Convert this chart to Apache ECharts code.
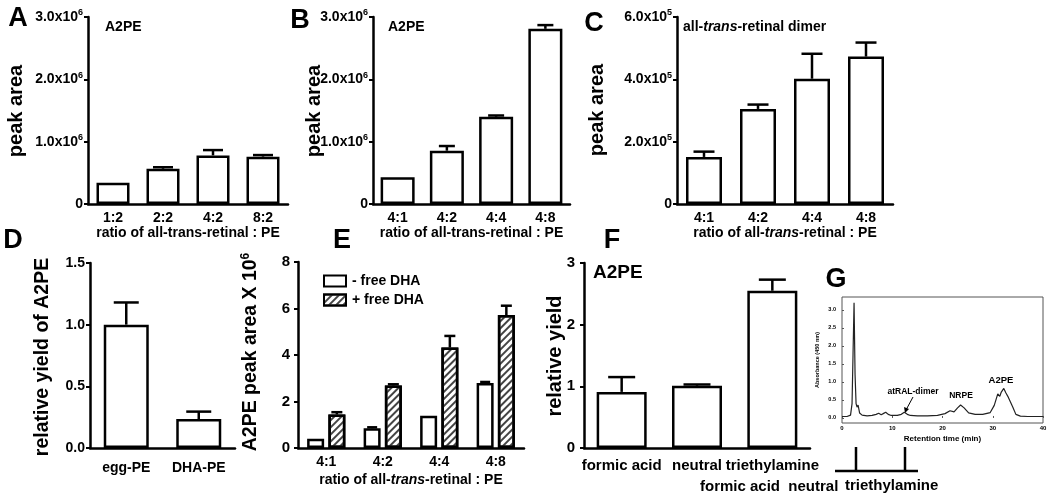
<!DOCTYPE html>
<html><head><meta charset="utf-8">
<script src="https://cdn.jsdelivr.net/npm/echarts@6/dist/echarts.min.js"></script>
<style>html,body{margin:0;padding:0;background:#fff}#c{width:1050px;height:495px}</style>
</head><body><div id="c"></div>
<script>
// ---------- data ----------
const aCats = ['1:2', '2:2', '4:2', '8:2'];
const aMean = [0.34e6, 0.565e6, 0.78e6, 0.76e6];
const aErr  = [0, 0.025e6, 0.085e6, 0.025e6];

const bCats = ['4:1', '4:2', '4:4', '4:8'];
const bMean = [0.43e6, 0.855e6, 1.40e6, 2.81e6];
const bErr  = [0, 0.075e6, 0.02e6, 0.06e6];

const cCats = ['4:1', '4:2', '4:4', '4:8'];
const cMean = [1.51e5, 3.05e5, 4.02e5, 4.73e5];
const cErr  = [0.17e5, 0.14e5, 0.80e5, 0.45e5];

const dCats = ['egg-PE', 'DHA-PE'];
const dMean = [1.0, 0.235];
const dErr  = [0.18, 0.06];

const eCats = ['4:1', '4:2', '4:4', '4:8'];
const eMinus = [0.40, 0.85, 1.39, 2.80];
const eMinusErr = [0, 0.04, 0, 0.04];
const ePlus = [1.44, 2.69, 4.32, 5.72];
const ePlusErr = [0.10, 0.05, 0.50, 0.40];

const fCats = ['formic acid', 'neutral', 'triethylamine'];
const fMean = [0.91, 1.01, 2.55];
const fErr  = [0.24, 0.02, 0.18];

const gTime = [0, 1.0, 1.7, 2.0, 2.2, 2.4, 2.6, 2.8, 3.0, 3.2, 3.5, 4.0, 5.0, 6.0, 6.8, 7.3, 7.8, 8.2, 8.7, 9.2,
  9.8, 11.0, 11.8, 12.4, 13.0, 13.6, 15.0, 17.0, 19.0, 20.5, 21.5, 22.3, 23.0, 23.6, 24.3, 25.2, 26.5, 28.0, 29.5, 30.3,
  31.0, 31.4, 31.7, 32.2, 32.6, 33.0, 33.5, 34.0, 34.6, 35.5, 37.0, 40.0];
const gAbs = [0.04, 0.04, 0.08, 0.4, 1.8, 3.2, 1.2, 0.4, 0.3, 0.36, 0.14, 0.08, 0.06, 0.07, 0.10, 0.13, 0.09, 0.12, 0.16, 0.10,
  0.07, 0.07, 0.10, 0.16, 0.10, 0.07, 0.06, 0.06, 0.07, 0.12, 0.20, 0.17, 0.28, 0.36, 0.28, 0.14, 0.10, 0.10, 0.15, 0.35,
  0.67, 0.60, 0.72, 0.82, 0.70, 0.60, 0.45, 0.30, 0.10, 0.05, 0.04, 0.04];
const gYTicks = [0, 0.5, 1.0, 1.5, 2.0, 2.5, 3.0];

// ---------- styling helpers ----------
const FONT = '"Liberation Sans", Arial, sans-serif';
const AXW = 2.5;
const txt = (size, extra) => Object.assign({color: '#000', fontFamily: FONT, fontWeight: 'bold', fontSize: size}, extra || {});
const supRich = {s: txt(9, {padding: [0, 0, 8, 0]}), i: txt(14, {fontStyle: 'italic'})};

function xCat(gi, data, o) {
  return Object.assign({
    type: 'category', gridIndex: gi, data: data,
    axisLine: {lineStyle: {color: '#000', width: AXW}},
    axisTick: {show: false},
    axisLabel: Object.assign(txt(14), {margin: 7, interval: 0}),
    nameLocation: 'middle',
    nameTextStyle: Object.assign(txt(14), {rich: supRich})
  }, o || {});
}
function yVal(gi, min, max, interval, fmt, size, margin) {
  return {
    type: 'value', gridIndex: gi, min: min, max: max, interval: interval,
    axisLine: {show: true, lineStyle: {color: '#000', width: AXW}},
    axisTick: {show: true, length: 4, lineStyle: {color: '#000', width: 2}},
    splitLine: {show: false},
    axisLabel: Object.assign(txt(size), {margin: margin, formatter: fmt, rich: supRich})
  };
}
const barStyle = {color: '#fff', borderColor: '#000', borderWidth: AXW};
function bar(gi, vals, bw, extra) {
  return Object.assign({type: 'bar', xAxisIndex: gi, yAxisIndex: gi, data: vals, barWidth: bw,
    itemStyle: barStyle, silent: true, animation: false}, extra || {});
}
function errSeries(gi, means, errs, offset, capW) {
  return {
    type: 'custom', xAxisIndex: gi, yAxisIndex: gi, z: 5, silent: true, animation: false,
    encode: {x: 0, y: 1},
    data: means.map((m, i) => [i, m, errs[i]]),
    renderItem: function (params, api) {
      const i = api.value(0), m = api.value(1), e = api.value(2);
      if (!e) return null;
      const p0 = api.coord([i, m]), p1 = api.coord([i, m + e]);
      const x = p0[0] + offset;
      const st = {stroke: '#000', lineWidth: AXW};
      return {type: 'group', children: [
        {type: 'line', shape: {x1: x, y1: p0[1], x2: x, y2: p1[1]}, style: st},
        {type: 'line', shape: {x1: x - capW / 2, y1: p1[1], x2: x + capW / 2, y2: p1[1]}, style: st}
      ]};
    }
  };
}
const sci = (exp) => (v) => v === 0 ? '0' : (v / Math.pow(10, exp)).toFixed(1) + 'x10{s|' + exp + '}';

function gtext(x, y, text, size, extra) {
  return {type: 'text', x: x, y: y, silent: true,
    style: Object.assign({text: text, fill: '#000', font: 'bold ' + size + 'px ' + FONT,
      align: 'center', verticalAlign: 'middle', rich: {s: {font: 'bold ' + Math.round(size * 0.6) + 'px ' + FONT, fill: '#000', padding: [0, 0, Math.round(size * 0.55), 0]},
      i: {font: 'italic bold ' + size + 'px ' + FONT, fill: '#000'}}}, extra || {})};
}
function vtext(x, y, text, size) {
  const t = gtext(x, y, text, size);
  t.rotation = Math.PI / 2;
  return t;
}
const ln = (x1, y1, x2, y2, w) => ({type: 'line', silent: true, shape: {x1, y1, x2, y2}, style: {stroke: '#000', lineWidth: w || AXW}});

const hatch = {symbol: 'rect', symbolSize: 1, dashArrayX: [1, 0], dashArrayY: [1.2, 2.2], rotation: -Math.PI / 4, color: '#444'};

const option = {
  backgroundColor: '#fff',
  animation: false,
  grid: [
    {left: 88, top: 17, width: 200, height: 187},
    {left: 373, top: 17, width: 197, height: 187},
    {left: 677, top: 17, width: 216, height: 187},
    {left: 90, top: 263, width: 145, height: 185},
    {left: 298, top: 262, width: 226, height: 186},
    {left: 584, top: 263, width: 226, height: 185},
    {left: 842, top: 297, width: 201, height: 126, show: true, borderColor: '#555', borderWidth: 1}
  ],
  legend: {
    left: 318, top: 269, orient: 'vertical', itemWidth: 22, itemHeight: 11, itemGap: 5, icon: 'rect',
    data: ['- free DHA', '+ free DHA'], selectedMode: false,
    textStyle: txt(14, {padding: [0, 0, 0, 1]})
  },
  xAxis: [
    xCat(0, aCats, {name: 'ratio of all-trans-retinal : PE', nameGap: 22}),
    xCat(1, bCats, {name: 'ratio of all-trans-retinal : PE', nameGap: 22}),
    xCat(2, cCats, {name: 'ratio of all-{i|trans}-retinal : PE', nameGap: 22}),
    xCat(3, dCats, {axisLabel: Object.assign(txt(14), {margin: 13, interval: 0})}),
    xCat(4, eCats, {name: 'ratio of all-{i|trans}-retinal : PE', nameGap: 25}),
    xCat(5, fCats, {axisLabel: Object.assign(txt(15), {margin: 10, interval: 0})}),
    {type: 'value', gridIndex: 6, min: 0, max: 40, interval: 10,
      axisLine: {show: false}, splitLine: {show: false},
      axisTick: {show: true, inside: true, length: 2, lineStyle: {color: '#555', width: 1}},
      axisLabel: Object.assign(txt(6), {margin: 2}),
      name: 'Retention time (min)', nameLocation: 'middle', nameGap: 12, nameTextStyle: txt(8)}
  ],
  yAxis: [
    yVal(0, 0, 3e6, 1e6, sci(6), 14, 5),
    yVal(1, 0, 3e6, 1e6, sci(6), 14, 5),
    yVal(2, 0, 6e5, 2e5, sci(5), 14, 5),
    yVal(3, 0, 1.5, 0.5, (v) => v.toFixed(1), 14, 5),
    yVal(4, 0, 8, 2, (v) => String(v), 15, 8),
    yVal(5, 0, 3, 1, (v) => String(v), 15, 9),
    {type: 'value', gridIndex: 6, min: -0.14, max: 3.36,
      axisLine: {show: false}, splitLine: {show: false},
      axisTick: {show: true, inside: true, length: 2, customValues: gYTicks, lineStyle: {color: '#555', width: 1}},
      axisLabel: Object.assign(txt(5.5), {margin: 6, customValues: gYTicks, formatter: (v) => v.toFixed(1)}),
      name: 'Absorbance (450 nm)', nameLocation: 'middle', nameRotate: 90, nameGap: 22, nameTextStyle: txt(5.5)}
  ],
  series: [
    bar(0, aMean, 33), errSeries(0, aMean, aErr, 0, 20),
    bar(1, bMean, 34), errSeries(1, bMean, bErr, 0, 16),
    bar(2, cMean, 36), errSeries(2, cMean, cErr, 0, 21),
    bar(3, dMean, 45), errSeries(3, dMean, dErr, 0, 25),
    bar(4, eMinus, 17, {name: '- free DHA', barGap: '25%'}),
    bar(4, ePlus, 17, {name: '+ free DHA', barGap: '25%', itemStyle: Object.assign({}, barStyle, {color: '#fff', decal: hatch})}),
    errSeries(4, eMinus, eMinusErr, -10.6, 10), errSeries(4, ePlus, ePlusErr, 10.6, 11),
    bar(5, fMean, 50), errSeries(5, fMean, fErr, 0, 27),
    {type: 'line', xAxisIndex: 6, yAxisIndex: 6, showSymbol: false, silent: true, animation: false,
      data: gTime.map((t, i) => [t, gAbs[i]]), lineStyle: {color: '#222', width: 1.2}}
  ],
  graphic: [
    // panel letters
    gtext(18, 19, 'A', 27), gtext(300, 21, 'B', 27), gtext(594, 24, 'C', 27),
    gtext(13, 241, 'D', 27), gtext(342, 241, 'E', 27), gtext(612, 241, 'F', 27), gtext(836, 280, 'G', 27),
    // y titles
    vtext(16, 111, 'peak area', 20), vtext(314, 111, 'peak area', 20), vtext(597, 110, 'peak area', 20),
    vtext(43, 357, 'relative yield of A2PE', 19.5), vtext(251, 352, 'A2PE peak area X 10{s|6}', 19.5),
    vtext(555, 356, 'relative yield', 20),
    // in-panel titles
    gtext(105, 27, 'A2PE', 14, {align: 'left'}), gtext(388, 27, 'A2PE', 14, {align: 'left'}),
    gtext(683, 27, 'all-{i|trans}-retinal dimer', 14, {align: 'left'}),
    gtext(593, 273, 'A2PE', 19, {align: 'left'}),
    // panel G annotations
    gtext(913, 392, 'atRAL-dimer', 8.5), gtext(961, 396, 'NRPE', 8.5), gtext(1001, 380, 'A2PE', 9.5),
    ln(913, 397, 906, 410, 1),
    {type: 'polygon', silent: true, shape: {points: [[905, 413], [904, 407], [909, 409]]}, style: {fill: '#000'}},
    // stray artifacts at the bottom
    gtext(700, 487, 'formic acid  neutral', 15, {align: 'left'}),
    ln(835, 471, 918, 471), ln(856, 447, 856, 471), ln(905, 447, 905, 471),
    gtext(845, 486, 'triethylamine', 15, {align: 'left'})
  ]
};
const chart = echarts.init(document.getElementById('c'), null, {renderer: 'canvas'});
chart.setOption(option);
</script>
</body></html>
